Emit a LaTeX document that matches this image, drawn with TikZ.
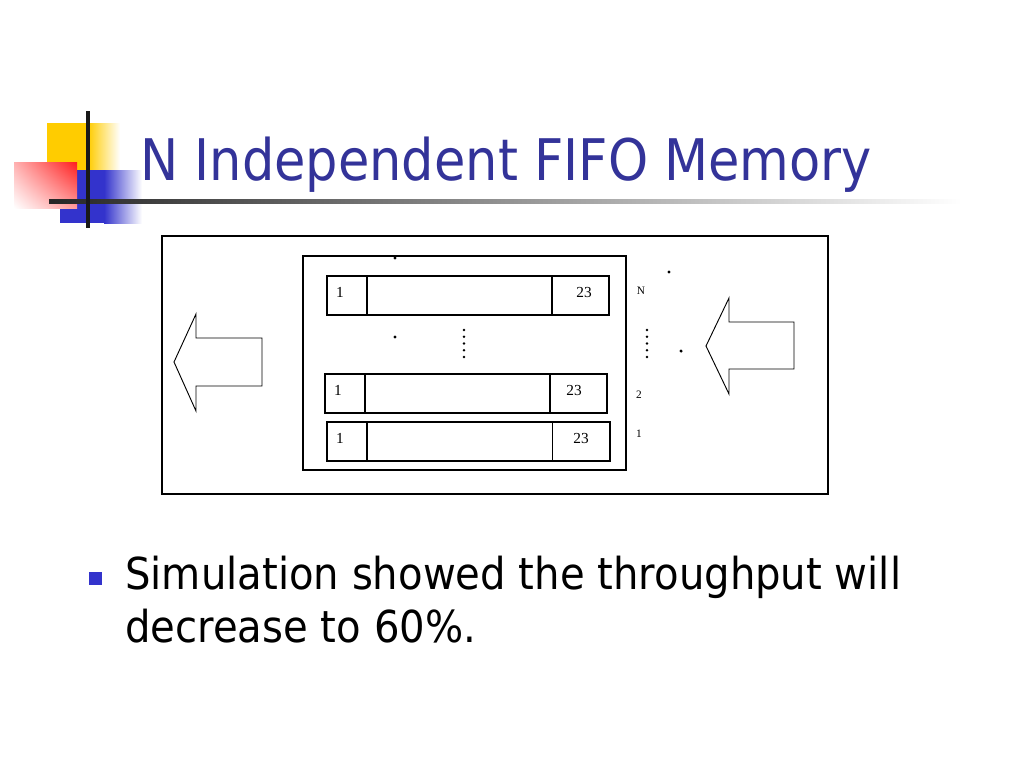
\documentclass[tikz,border=0pt]{standalone}
\usepackage{fontspec}
\setmainfont{Liberation Serif}
\newfontfamily\slidefont{DejaVu Sans}
\usetikzlibrary{shadings}
\definecolor{titleblue}{RGB}{51,51,153}
\definecolor{bulletblue}{RGB}{51,51,204}
\definecolor{logoyellow}{RGB}{255,204,0}
\definecolor{logoblue}{RGB}{51,51,204}
\definecolor{logored}{RGB}{255,30,30}
\tikzset{
  cell/.style={draw=black, line width=0.8pt},
  cellnum/.style={inner sep=0pt, anchor=base, font=\fontsize{11.5}{13}\selectfont},
  rowlab/.style={inner sep=0pt, anchor=base, font=\fontsize{8.5}{10}\selectfont},
  dotmark/.style={circle, fill=black, inner sep=0pt, minimum size=2.6pt},
  blockarrow/.style={draw=black, line width=0.7pt, line join=miter},
}
\begin{document}
\begin{tikzpicture}[x=0.75pt,y=-0.75pt]
\useasboundingbox[fill=white] (0,0) rectangle (1024,768);

% ---- logo ----
\fill[logoyellow] (47,123) rectangle (88,170);
\shade[left color=logoyellow, right color=white] (88,123) rectangle (120,170);
\fill[logoblue] (60,170) rectangle (104,223);
\shade[left color=logoblue, right color=white] (104,170) rectangle (142,223);
\shade[upper right=logored, upper left=logored!35, lower right=logored!45, lower left=white] (14,162) rectangle (77,208);
\shade[left color=black!85, right color=white] (49,199) rectangle (962,203.5);
\fill[black!90] (85.5,111) rectangle (89.5,228);

% ---- title ----
\node[anchor=base west, inner sep=0pt, text=titleblue, font=\slidefont\fontsize{43}{50}\selectfont] (title) at (140,180) {\scalebox{0.89}[1]{N Independent FIFO Memory}};

% ---- diagram ----
\draw[line width=1.6pt] (162,236) rectangle (828,494);
\draw[line width=1.9pt] (303,256) rectangle (626,470);

% row N
\draw[cell] (327,276) rectangle (609,315);
\draw[cell] (367,276) -- (367,315);
\draw[cell] (552,276) -- (552,315);
\node[cellnum] (nA) at (340,297) {1};
\node[cellnum] (nB) at (584,297) {23};
% row 2
\draw[cell] (325,374) rectangle (607,413);
\draw[cell] (365,374) -- (365,413);
\draw[cell] (550,374) -- (550,413);
\node[cellnum] (tA) at (338,395) {1};
\node[cellnum] (tB) at (574,395) {23};
% row 1
\draw[cell] (327,422) rectangle (610,461);
\draw[cell] (367,422) -- (367,461);
\draw[cell] (552.5,422) -- (552.5,461);
\node[cellnum] (oA) at (340,443) {1};
\node[cellnum] (oB) at (581,443) {23};

% row labels
\node[rowlab] (labN) at (641,294) {N};
\node[rowlab] (lab2) at (639,398) {2};
\node[rowlab] (lab1) at (639,437) {1};

% single dots
\node[dotmark] (d1) at (395,258) {};
\node[dotmark] (d2) at (395,337) {};
\node[dotmark] (d3) at (669,272) {};
\node[dotmark] (d4) at (681,351) {};
% dotted columns
\foreach \i in {0,...,4} {
  \node[dotmark, minimum size=2.2pt] (ca\i) at (464,330+6.75*\i) {};
  \node[dotmark, minimum size=2.2pt] (cb\i) at (647,330+6.75*\i) {};
}

% block arrows
\draw[blockarrow] (174,362) -- (196,314) -- (196,338) -- (262,338) -- (262,386) -- (196,386) -- (196,411) -- cycle;
\draw[blockarrow] (706,346) -- (729,298) -- (729,322) -- (794,322) -- (794,369) -- (729,369) -- (729,394) -- cycle;

% ---- bullet ----
\fill[bulletblue] (89,572) rectangle (102,585);
\node[anchor=base west, inner sep=0pt, font=\slidefont\fontsize{33}{38}\selectfont] (line1) at (125,589) {\scalebox{0.913}[1]{Simulation showed the throughput will}};
\node[anchor=base west, inner sep=0pt, font=\slidefont\fontsize{33}{38}\selectfont] (line2) at (125,642) {\scalebox{0.913}[1]{decrease to 60\%.}};
\end{tikzpicture}
\end{document}
